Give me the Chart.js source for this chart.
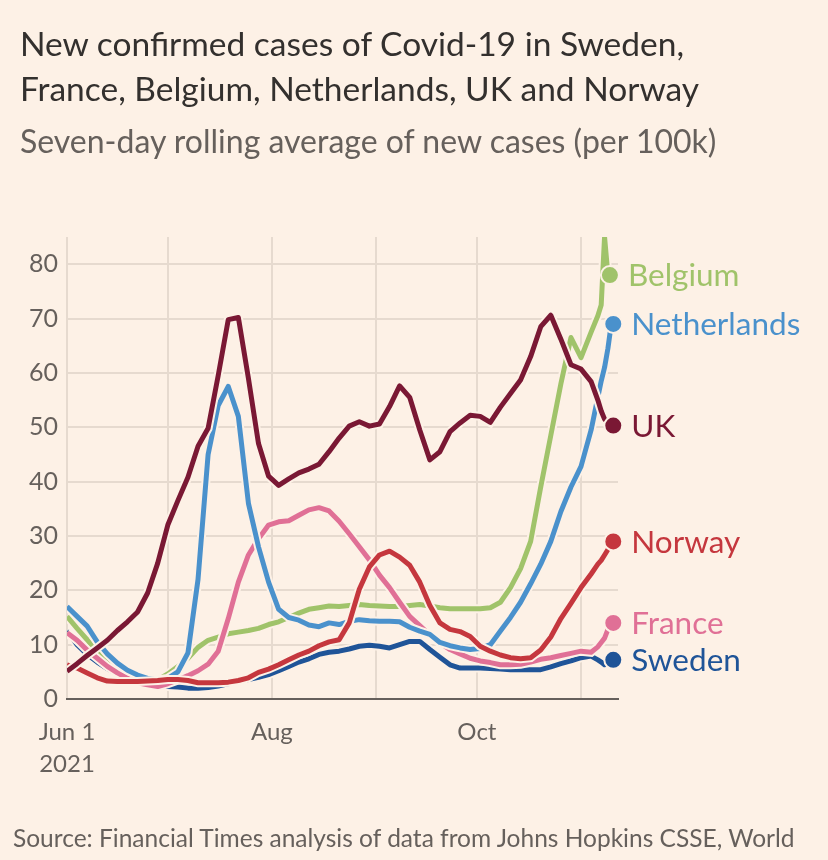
<!DOCTYPE html>
<html>
<head>
<meta charset="utf-8">
<script src="https://cdn.jsdelivr.net/npm/chart.js@4.4.0/dist/chart.umd.min.js"></script>
<style>
  html, body { margin: 0; padding: 0; background: #fdf1e6; }
  body { width: 828px; height: 860px; position: relative; overflow: hidden; font-family: Lato, sans-serif; }
  #chart { position: absolute; left: 0; top: 0; }
  .title { position: absolute; left: 20px; top: 21px; font-size: 33.5px; line-height: 45px; color: #33302e; }
  .subtitle { position: absolute; left: 20px; top: 125px; font-size: 32px; line-height: 32px; color: #66605c; }
  .source { position: absolute; left: 13px; top: 826px; font-size: 24.5px; line-height: 24px; color: #66605c; white-space: nowrap; }
</style>
</head>
<body>
<canvas id="chart" width="828" height="860"></canvas>
<div class="title">New confirmed cases of Covid-19 in Sweden,<br>France, Belgium, Netherlands, UK and Norway</div>
<div class="subtitle">Seven-day rolling average of new cases (per 100k)</div>
<div class="source">Source: Financial Times analysis of data from Johns Hopkins CSSE, World</div>
<script>
// days since 1 June 2021
const days = [
  0, 3, 6, 9, 12, 15, 18, 21, 24, 27,
  30, 33, 36, 39, 42, 45, 48, 51, 54, 57,
  60, 63, 66, 69, 72, 75, 78, 81, 84, 87,
  90, 93, 96, 99, 102, 105, 108, 111, 114, 117,
  120, 123, 126, 129, 132, 135, 138, 141, 144, 147,
  150, 153, 156, 158, 159, 160, 161, 162
];

const monthTicks = [0, 30, 61, 92, 122, 153];
const monthLabels = [['Jun 1', '2021'], '', 'Aug', '', 'Oct', ''];

const uk = [
  5.1, 6.5, 8, 9.4, 10.8, 12.6, 14.2, 16, 19.5, 25,
  32, 36.5, 40.8, 46.5, 49.8, 59.5, 69.8, 70.2, 59, 47,
  41, 39.3, 40.5, 41.6, 42.3, 43.2, 45.5, 48, 50.2, 51,
  50.2, 50.6, 53.8, 57.6, 55.5, 49.5, 44, 45.5, 49.2, 50.8,
  52.2, 52, 50.9, 53.7, 56.2, 58.7, 63, 68.5, 70.6, 66.2,
  61.5, 60.7, 58.4, 55, 53, 51.5, 50.8, 50.3
];
const netherlands = [
  17, 15.2, 13.4, 10.5, 8.3, 6.6, 5.3, 4.4, 3.8, 3.5,
  3.8, 5, 8.5, 22, 45, 54, 57.5, 52, 36, 28,
  21.5, 16.5, 15, 14.5, 13.6, 13.3, 14, 13.7, 14.3, 14.6,
  14.4, 14.3, 14.3, 14.2, 13.2, 12.5, 11.9, 10.4, 9.8, 9.4,
  9.1, 9.3, 10, 12.5, 15, 17.8, 21.2, 24.8, 29, 34.5,
  39, 42.8, 49.5, 55.5, 58.5, 61, 64.5, 69
];
const belgium = [
  15.2, 13, 10.9, 8.6, 6.6, 5.1, 4.2, 3.6, 3.3, 3.5,
  4.6, 6, 7.5, 9.5, 10.8, 11.4, 12, 12.3, 12.6, 13,
  13.7, 14.2, 15, 15.8, 16.5, 16.8, 17.1, 17, 17.2, 17.4,
  17.2, 17.1, 17, 17, 17.2, 17.4, 17.1, 16.8, 16.6, 16.6,
  16.6, 16.6, 16.8, 17.8, 20.5, 24, 29, 39, 48.5, 58,
  66.5, 62.8, 67.5, 70.5, 72.5, 85, 78, null
];
const norway = [
  6.3, 5.7, 4.8, 3.9, 3.3, 3.2, 3.2, 3.2, 3.3, 3.4,
  3.6, 3.6, 3.4, 3, 3, 3, 3.1, 3.4, 3.9, 4.9,
  5.5, 6.3, 7.2, 8.1, 8.8, 9.8, 10.5, 10.9, 14, 20.2,
  24.3, 26.5, 27.2, 26.1, 24.6, 21.5, 17.2, 14, 12.8, 12.4,
  11.5, 9.7, 8.8, 8.1, 7.6, 7.4, 7.6, 9, 11.4, 14.8,
  17.6, 20.5, 23, 24.8, 25.5, 26.5, 27.5, 29
];
const france = [
  12.2, 10.8, 9, 7.5, 6, 4.8, 3.8, 3, 2.6, 2.3,
  2.8, 3.5, 4.3, 5.2, 6.4, 8.8, 14.8, 21.5, 26.5, 29.5,
  32, 32.6, 32.8, 33.8, 34.8, 35.2, 34.6, 32.7, 30.4, 28,
  25.6, 22.8, 20.5, 17.8, 15.2, 13.5, 11.8, 10.3, 9.1, 8.3,
  7.5, 7, 6.7, 6.3, 6.3, 6.4, 6.8, 7.3, 7.6, 8,
  8.4, 8.8, 8.6, 9.6, 10.4, 11.2, 12.8, 14
];
const sweden = [
  12.5, 10, 8.2, 6.8, 5.6, 4.6, 3.8, 3.2, 2.8, 2.5,
  2.3, 2.2, 2, 2, 2.1, 2.4, 2.8, 3.2, 3.6, 4,
  4.5, 5.2, 6, 6.8, 7.4, 8.2, 8.6, 8.8, 9.2, 9.7,
  9.9, 9.7, 9.4, 10, 10.6, 10.6, 9.1, 7.7, 6.3, 5.7,
  5.7, 5.7, 5.6, 5.5, 5.4, 5.4, 5.4, 5.4, 5.9, 6.5,
  7, 7.6, 7.9, 7.2, 6.8, 6.3, 6.6, 7.2
];

const paper = '#fdf1e6';
const textGrey = '#66605c';

// bottom to top
const series = [
  { name: 'Sweden', values: sweden, color: '#1f5498' },
  { name: 'Belgium', values: belgium, color: '#a0c36a' },
  { name: 'France', values: france, color: '#e07096' },
  { name: 'Netherlands', values: netherlands, color: '#4a91cc' },
  { name: 'Norway', values: norway, color: '#c5373e' },
  { name: 'UK', values: uk, color: '#7a1834' }
];

const toPoints = vals => days.map((d, i) => ({ x: d, y: vals[i] }));

const datasets = [];
series.forEach(s => {
  // paper-coloured halo under each line
  datasets.push({
    data: toPoints(s.values),
    borderColor: paper,
    borderWidth: 9,
    pointRadius: 0,
    tension: 0
  });
  datasets.push({
    label: s.name,
    endLabel: true,
    data: toPoints(s.values),
    borderColor: s.color,
    borderWidth: 5,
    pointRadius: 0,
    tension: 0,
    borderJoinStyle: 'round'
  });
});
// Chart.js paints the first dataset last, so flip to keep UK on top
datasets.reverse();

const endLabels = {
  id: 'endLabels',
  afterDatasetsDraw(chart) {
    const ctx = chart.ctx;
    chart.data.datasets.forEach((ds, i) => {
      if (!ds.endLabel) return;
      const meta = chart.getDatasetMeta(i);
      let idx = ds.data.length - 1;
      while (idx > 0 && ds.data[idx].y == null) idx--;
      const pt = meta.data[idx];
      ctx.save();
      ctx.beginPath();
      ctx.arc(pt.x + 2, pt.y, 9, 0, Math.PI * 2);
      ctx.fillStyle = ds.borderColor;
      ctx.fill();
      ctx.lineWidth = 2;
      ctx.strokeStyle = paper;
      ctx.stroke();
      ctx.font = '31.5px Lato';
      ctx.fillStyle = ds.borderColor;
      ctx.textBaseline = 'middle';
      ctx.fillText(ds.label, pt.x + 20, pt.y + 1);
      ctx.restore();
    });
  }
};

new Chart(document.getElementById('chart'), {
  type: 'line',
  data: { datasets },
  plugins: [endLabels],
  options: {
    responsive: false,
    animation: false,
    devicePixelRatio: 1,
    layout: { padding: { top: 237, right: 210, left: 0, bottom: 0 } },
    plugins: { legend: { display: false }, tooltip: { enabled: false } },
    scales: {
      x: {
        type: 'linear',
        min: 0,
        max: 164,
        afterFit: s => { s.height = 161; },
        afterBuildTicks: s => { s.ticks = monthTicks.map(v => ({ value: v })); },
        grid: { color: '#e6dacf', lineWidth: 2, drawTicks: false },
        border: { display: true, color: textGrey, width: 2 },
        ticks: {
          autoSkip: false,
          maxRotation: 0,
          padding: 18,
          color: textGrey,
          font: { family: 'Lato', size: 24, lineHeight: 1.3 },
          callback: v => monthLabels[monthTicks.indexOf(v)]
        }
      },
      y: {
        min: 0,
        max: 85,
        afterFit: s => { s.width = 67; },
        grid: { color: '#e6dacf', lineWidth: 2, drawTicks: false },
        border: { display: false },
        ticks: {
          stepSize: 10,
          includeBounds: false,
          padding: 9,
          color: textGrey,
          font: { family: 'Lato', size: 25 }
        }
      }
    }
  }
});
</script>
</body>
</html>
